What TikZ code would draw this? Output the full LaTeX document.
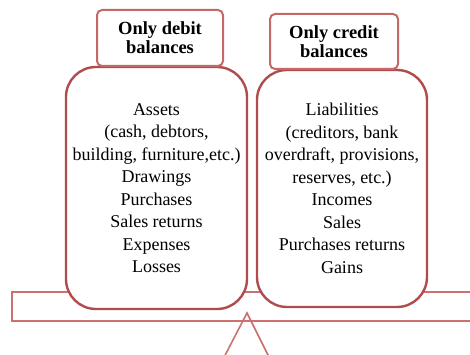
\documentclass[tikz,border=0pt]{standalone}
\usepackage{fontspec}
\setmainfont{Liberation Serif}
\definecolor{boxred}{RGB}{176,76,76}
\definecolor{headred}{RGB}{196,104,104}
\definecolor{plankred}{RGB}{204,112,112}
\begin{document}
\begin{tikzpicture}[x=1pt,y=-1pt]
        \tikzset{bigbox/.style={draw=boxred, line width=2.4pt, fill=white,
                                rounded corners=30pt, align=center,
                                font=\fontsize{18}{22.5}\selectfont},
                 headbox/.style={draw=headred, line width=2pt, fill=white,
                                 rounded corners=5pt, align=center,
                                 font=\bfseries\fontsize{18.5}{19}\selectfont},
                 plank/.style={draw=plankred, line width=2pt}}
        \clip (0,0) rectangle (470,355);

        \draw[plank] (12,292) rectangle (480,321);

        \coordinate (apex) at (247,313);
        \draw[plank, line width=1.6pt] (220,365) -- (apex) -- (273,365);

        \node[bigbox, minimum width=181pt, minimum height=242pt] (debit)
              at (156.5,188)
              {Assets\\(cash, debtors,\\building, furniture,etc.)\\Drawings\\
               Purchases\\Sales returns\\Expenses\\Losses};

        \node[bigbox, minimum width=170pt, minimum height=237pt] (credit)
              at (342,188.5)
              {Liabilities\\(creditors, bank\\overdraft, provisions,\\
               reserves, etc.)\\Incomes\\Sales\\Purchases returns\\Gains};

        \node[headbox, minimum width=126pt, minimum height=56pt] (debithead)
              at (160,38) {Only debit\\balances};

        \node[headbox, minimum width=128pt, minimum height=55pt] (credithead)
              at (334,41.5) {Only credit\\balances};
      \end{tikzpicture}
\end{document}
